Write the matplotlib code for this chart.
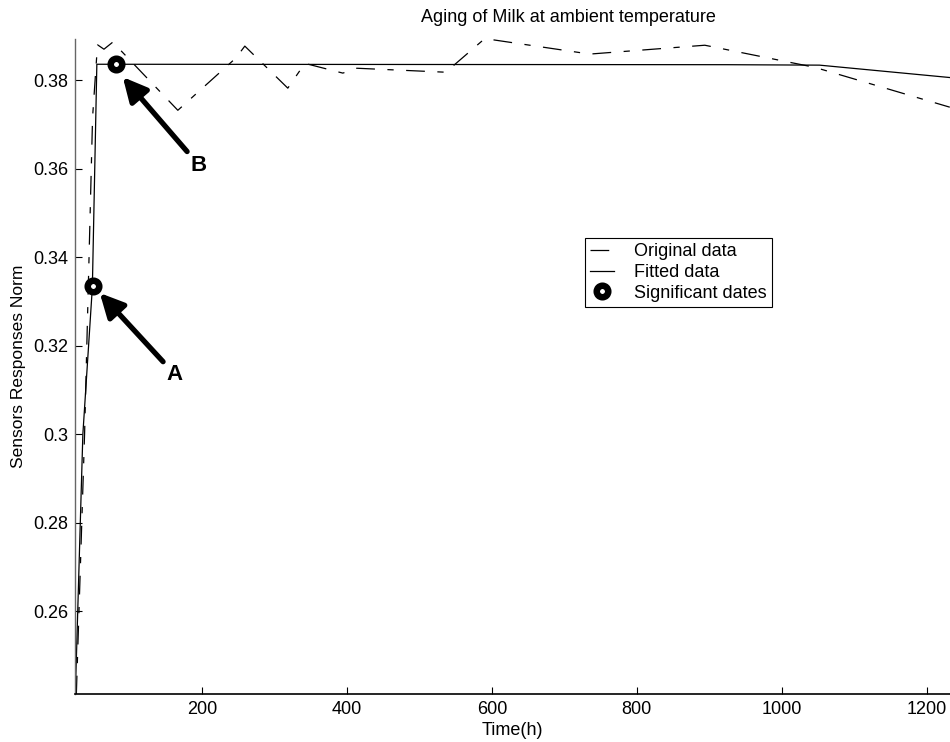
import matplotlib
matplotlib.use('Agg')
import matplotlib.pyplot as plt

plt.rcParams['font.family'] = ['Liberation Sans', 'DejaVu Sans']

# original measurements (dashed)
orig_t = [26.9, 38.3, 49.3, 56.1, 65.0, 77.2, 166.9, 246.9, 259.3, 318.6, 342.1,
          394.5, 413.8, 536.5, 590.3, 735.2, 893.8, 1045.5, 1231.7]
orig_v = [0.2412, 0.3002, 0.3716, 0.3880, 0.3870, 0.3886, 0.3732, 0.3850, 0.3877, 0.3782, 0.3838,
          0.3816, 0.3827, 0.3818, 0.3894, 0.3859, 0.3879, 0.3829, 0.3739]

# fitted curve (solid)
fit_t = [25.5, 35.9, 49.0, 55.2, 925.0, 1052.0, 1231.7]
fit_v = [0.2412, 0.3000, 0.3332, 0.3836, 0.3835, 0.3834, 0.3806]

# significant dates
sig_t = [49.7, 81.4]
sig_v = [0.33345, 0.38373]
sig_labels = ['A', 'B']
label_t = [162.8, 195.9]
label_v = [0.3135, 0.3608]
tip_t = [59.3, 91.0]
tip_v = [0.3319, 0.3807]

fig = plt.figure(figsize=(9.5, 7.42), dpi=100)
ax = fig.add_axes([0.0789, 0.0647, 0.9211, 0.8827])

ax.plot(orig_t, orig_v, color='black', lw=0.9, linestyle=(0, (15, 10, 5, 10)),
        label='Original data')
ax.plot(fit_t, fit_v, color='black', lw=0.9, label='Fitted data')
ax.plot(sig_t, sig_v, linestyle='none', marker='o', ms=8.3, mew=4.7,
        mfc='white', mec='black', label='Significant dates')

for lab, lx, ly, tx, ty in zip(sig_labels, label_t, label_v, tip_t, tip_v):
    ax.annotate(lab, xy=(tx, ty), xytext=(lx, ly), fontsize=16, fontweight='bold',
                ha='center', va='center',
                arrowprops=dict(arrowstyle='-|>', lw=3.8, color='black',
                                mutation_scale=36, shrinkA=1, shrinkB=0))

ax.set_xlim(25, 1232)
ax.set_ylim(0.2413, 0.3893)
ax.set_xticks([200, 400, 600, 800, 1000, 1200])
ax.set_yticks([0.26, 0.28, 0.30, 0.32, 0.34, 0.36, 0.38])
ax.set_yticklabels(['0.26', '0.28', '0.3', '0.32', '0.34', '0.36', '0.38'])
ax.tick_params(direction='in', length=5, width=0.8, labelsize=13, pad=5)

ax.spines['top'].set_visible(False)
ax.spines['right'].set_visible(False)
ax.spines['left'].set_color('#666666')
ax.spines['left'].set_linewidth(1.0)
ax.spines['bottom'].set_linewidth(1.2)

ax.set_xlabel('Time(h)', fontsize=13, labelpad=3)
ax.set_ylabel('Sensors Responses Norm', fontsize=12.5, labelpad=5)
fig.text(568 / 950, 1 - 18 / 742, 'Aging of Milk at ambient temperature',
         ha='center', va='center', fontsize=13)

leg = ax.legend(loc='upper left', bbox_to_anchor=(585 / 950, 1 - 238 / 742),
                bbox_transform=fig.transFigure, fontsize=13, numpoints=1,
                fancybox=False, framealpha=1, edgecolor='black',
                handlelength=1.3, handletextpad=1.1, labelspacing=0.2,
                borderpad=0.3, borderaxespad=0)
leg.get_frame().set_linewidth(0.8)

plt.savefig('out.png', dpi=100)
plt.close()
